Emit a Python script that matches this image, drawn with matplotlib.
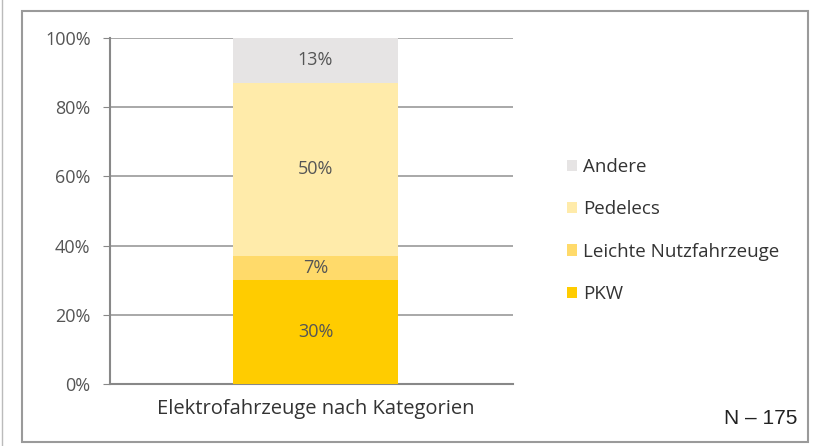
import matplotlib.pyplot as plt
from matplotlib.patches import Rectangle
from matplotlib.lines import Line2D

categories = ["Elektrofahrzeuge nach Kategorien"]
series = ["PKW", "Leichte Nutzfahrzeuge", "Pedelecs", "Andere"]
values = [30, 7, 50, 13]
colors = ["#FFCC00", "#FFDA6A", "#FFEBAA", "#E6E4E4"]
yticks = [0, 20, 40, 60, 80, 100]

plt.rcParams['font.family'] = ['Open Sans', 'DejaVu Sans']

fig = plt.figure(figsize=(8.21, 4.46), dpi=100)
# outer frame and the thin line at the left edge
fig.patches.append(Rectangle((22 / 821, 1 - 442 / 446), 786 / 821, 431 / 446,
                             transform=fig.transFigure, fill=False,
                             edgecolor="#9a9a9a", linewidth=1.5))
fig.lines.append(Line2D([2 / 821, 2 / 821], [0, 1], transform=fig.transFigure,
                        color="#bbbbbb", linewidth=1))

ax = fig.add_axes([110 / 821, 1 - 384 / 446, 403 / 821, 346 / 446])

bottom = 0
handles = []
for name, v, c in zip(series, values, colors):
    b = ax.bar([0], [v], bottom=bottom, width=0.41, color=c, label=name, zorder=3)
    ax.text(0, bottom + v / 2, f"{v}%", ha="center", va="center",
            fontsize=13, color="#555555", zorder=4)
    handles.append(b)
    bottom += v

ax.set_xlim(-0.51, 0.49)
ax.set_ylim(0, 100)
ax.set_yticks(yticks)
ax.set_yticklabels([f"{t}%" for t in yticks], fontsize=13, color="#555555")
ax.set_xticks([0])
ax.set_xticklabels(categories, fontsize=14.5, color="#333333")
ax.tick_params(axis="x", length=0, pad=11)
ax.tick_params(axis="y", length=5, color="#888888", pad=9)
ax.grid(axis="y", color="#999999", linewidth=1.2, zorder=0)
for s in ["top", "right"]:
    ax.spines[s].set_visible(False)
for s in ["left", "bottom"]:
    ax.spines[s].set_color("#888888")
    ax.spines[s].set_linewidth(1.5)

fig.legend(handles[::-1], series[::-1], loc="upper left",
           bbox_to_anchor=(550 / 821, 1 - 141 / 446), frameon=False,
           fontsize=13.5, handlelength=0.55, handleheight=0.55,
           handletextpad=0.3, labelspacing=1.3, labelcolor="#333333")

fig.text(797 / 821, 1 - 419 / 446, "N – 175", ha="right", va="center",
         fontsize=15, family="Liberation Sans", color="#222222")

fig.savefig("out.png", dpi=100)
